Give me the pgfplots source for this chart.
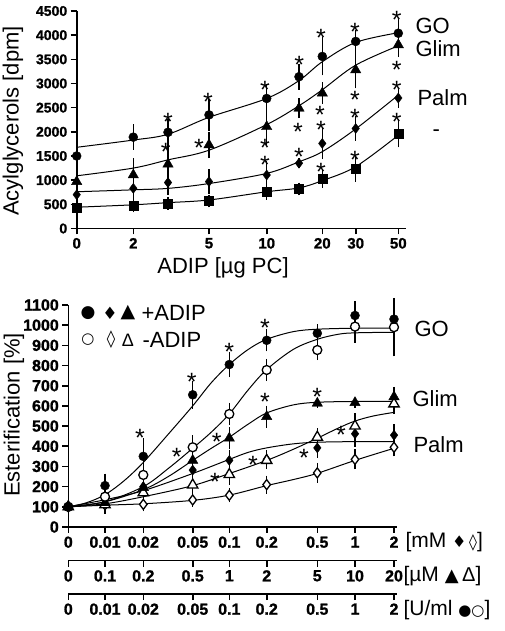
\documentclass[border=0pt]{standalone}
\usepackage{fontspec}
\setmainfont{Liberation Sans}
\newfontfamily\symfont{DejaVu Sans}
\newfontfamily\tickfont{Liberation Sans Bold}[FakeBold=1.2]
\usepackage{pgfplots}
\pgfplotsset{compat=1.18}
\newcommand\fs[1]{\fontsize{#1}{#1}\selectfont}
\pgfplotsset{
  myaxis/.style={scale only axis, axis lines*=left, axis line style={line width=1.6pt},
    every tick/.style={line width=1.6pt, black}, tick align=outside, major tick length=6pt,
    /pgf/number format/assume math mode=true, /pgf/number format/1000 sep={}, scaled ticks=false,
    clip=false, anchor=south west},
  errs/.style={error bars/.cd, y dir=both, y explicit, error bar style={line width=1.4pt},
    error mark options={mark size=5pt, line width=1.4pt}},
  crv/.style={line width=1pt, smooth, tension=0.55, no marks, black},
  stars/.style={only marks, mark=text, text mark={*}, text mark as node=true,
    text mark style={font=\fs{25}, yshift=-5pt, inner sep=0pt}},
  fc/.style={only marks, mark=*, mark size=4.5pt, black, errs},
  oc/.style={only marks, mark=*, mark size=4.5pt, black, mark options={fill=white, line width=1.3pt}, errs},
  ft/.style={only marks, mark=triangle*, mark size=6pt, black, errs},
  ot/.style={only marks, mark=triangle*, mark size=6pt, black, mark options={fill=white, line width=1.3pt}, errs},
  fd/.style={only marks, mark=diamond*, mark size=5pt, black, errs},
  od/.style={only marks, mark=diamond*, mark size=5pt, black, mark options={fill=white, line width=1.3pt}, errs},
  fs/.style={only marks, mark=square*, mark size=4.5pt, black, errs},
}
\begin{document}
\begin{tikzpicture}
\useasboundingbox (0pt,0pt) rectangle (505pt,631pt);
% ================= TOP CHART =================
\begin{axis}[myaxis, at={(76.7pt,402.5pt)}, width=329.3pt, height=217.5pt,
  xmin=0, xmax=329.3, ymin=0, ymax=4500, ytick={0,500,...,4500},
  xtick={0,56.6,132.3,190,245.6,279,321.6}, xticklabels={0,2,5,10,20,30,50},
  yticklabel style={font=\tickfont\fs{14}}, xticklabel style={font=\tickfont\fs{15}}]
% curves
\addplot[crv] coordinates {(0,1680)(56.6,1830)(91.3,1950)(132.3,2300)(190,2690)(222.3,3060)(245.6,3450)(279,3850)(321.6,4050)};
\addplot[crv] coordinates {(0,1090)(56.6,1250)(91.3,1420)(132.3,1620)(190,2150)(222.3,2540)(245.6,2870)(279,3380)(321.6,3780)};
\addplot[crv] coordinates {(0,760)(56.6,800)(91.3,830)(132.3,930)(190,1140)(222.3,1380)(245.6,1590)(279,2060)(321.6,2760)};
\addplot[crv] coordinates {(0,440)(56.6,490)(91.3,535)(132.3,590)(190,760)(222.3,840)(245.6,990)(279,1280)(321.6,1930)};
% data
\addplot[fs] coordinates {(0,420)+-(0,40) (56.6,466)+-(0,30) (91.3,521)+-(0,30) (132.3,569)+-(0,30) (190,761)+-(0,60) (222.3,817)+-(0,30) (245.6,1024)+-(0,80) (279,1245)+-(0,170) (321.6,1970)+-(0,190)};
\addplot[fd] coordinates {(0,700)+-(0,80) (56.6,830)+-(0,150) (91.3,950)+-(0,150) (132.3,970)+-(0,150) (190,1107)+-(0,190) (222.3,1350)+-(0,0) (245.6,1760)+-(0,220) (279,2070)+-(0,150) (321.6,2700)+-(0,100)};
\addplot[ft] coordinates {(0,970)+-(0,230) (56.6,1107)+-(0,240) (91.3,1330)+-(0,310) (132.3,1730)+-(0,170) (190,2106)+-(0,270) (222.3,2487)+-(0,100) (245.6,2800)+-(0,120) (279,3280)+-(0,280) (321.6,3800)+-(0,150)};
\addplot[fc] coordinates {(0,1500)+-(0,70) (56.6,1890)+-(0,160) (91.3,1990)+-(0,170) (132.3,2350)+-(0,230) (190,2690)+-(0,190) (222.3,3140)+-(0,170) (245.6,3560)+-(0,290) (279,3870)+-(0,140) (321.6,4040)+-(0,190)};
\addplot[stars] coordinates {(91.3,2313)(131.3,2727)(89,1692)(122.3,1763)(188.3,2969)(222.6,3486)(244.3,4039)(278.3,4175)(320,4417)(320,3383)(278.3,2762)(221.3,2106)(243.3,2452)(188.3,1763)(188.3,1417)(222.3,1589)(244.3,2141)(244.3,1279)(278.3,2384)(278.3,1521)(320,2969)(320,2313)};
\end{axis}
\node[rotate=90, font=\fs{22}] at (13pt,510pt) {Acylglycerols [dpm]};
\node[font=\fs{22}] at (223pt,363pt) {ADIP [µg PC]};
\node[anchor=west, font=\fs{22}] at (412pt,605.2pt) {GO};
\node[anchor=west, font=\fs{22}] at (412pt,582.7pt) {Glim};
\node[anchor=west, font=\fs{22}] at (414pt,533.5pt) {Palm};
\node[anchor=west, font=\fs{22}] at (429pt,497.7pt) {-};
% ================= BOTTOM CHART =================
\begin{axis}[myaxis, at={(68.3pt,104pt)}, width=329pt, height=222pt,
  xmin=0, xmax=329, ymin=0, ymax=1100, ytick={0,100,...,1100},
  xtick={0,36.7,75,124.4,161,198.4,249,286.7,325.7}, xticklabels={0,0.01,0.02,0.05,0.1,0.2,0.5,1,2},
  yticklabel style={font=\tickfont\fs{16}}, xticklabel style={font=\tickfont\fs{16}}]
% curves
\addplot[crv] coordinates {(0,100)(18,120)(36.7,160)(56,230)(75,320)(100,460)(124.4,600)(143,715)(161,805)(180,880)(198.4,930)(225,968)(249,980)(286.7,985)(325.7,986)};
\addplot[crv] coordinates {(0,100)(36.7,125)(75,200)(100,290)(124.4,390)(143,470)(161,560)(180,680)(198.4,780)(225,880)(249,930)(270,955)(286.7,962)(325.7,965)};
\addplot[crv] coordinates {(0,100)(36.7,125)(75,185)(100,250)(124.4,330)(143,390)(161,445)(180,510)(198.4,565)(225,605)(249,618)(286.7,622)(325.7,622)};
\addplot[crv] coordinates {(0,100)(36.7,115)(75,150)(124.4,205)(161,265)(198.4,330)(225,385)(249,440)(270,490)(286.7,525)(305,550)(325.7,568)};
\addplot[crv] coordinates {(0,100)(36.7,135)(75,180)(124.4,265)(161,335)(180,370)(198.4,392)(225,412)(249,420)(286.7,423)(325.7,423)};
\addplot[crv] coordinates {(0,100)(36.7,108)(75,115)(124.4,132)(161,158)(198.4,205)(225,235)(249,266)(286.7,330)(325.7,390)};
% data
\addplot[od] coordinates {(0,100)+-(0,10) (36.7,110)+-(0,10) (75,112)+-(0,10) (124.4,134)+-(0,10) (161,157)+-(0,10) (198.4,210)+-(0,20) (249,268)+-(0,25) (286.7,335)+-(0,25) (325.7,395)+-(0,20)};
\addplot[fd] coordinates {(0,100)+-(0,10) (36.7,150)+-(0,20) (75,200)+-(0,20) (124.4,282)+-(0,25) (161,330)+-(0,25) (198.4,335)+-(0,20) (249,392)+-(0,25) (286.7,462)+-(0,40) (325.7,455)+-(0,30)};
\addplot[ot] coordinates {(0,100)+-(0,10) (36.7,110)+-(0,20) (75,170)+-(0,20) (124.4,208)+-(0,25) (161,260)+-(0,25) (198.4,330)+-(0,20) (249,445)+-(0,20) (286.7,500)+-(0,40) (325.7,610)+-(0,25)};
\addplot[ft] coordinates {(0,100)+-(0,10) (36.7,120)+-(0,25) (75,195)+-(0,25) (124.4,330)+-(0,25) (161,440)+-(0,30) (198.4,547)+-(0,30) (249,613)+-(0,0) (286.7,616)+-(0,0) (325.7,645)+-(0,25)};
\addplot[oc] coordinates {(0,100)+-(0,10) (36.7,150)+-(0,20) (75,258)+-(0,30) (124.4,395)+-(0,35) (161,560)+-(0,30) (198.4,778)+-(0,30) (249,877)+-(0,25) (286.7,993)+-(0,55) (325.7,990)+-(0,120)};
\addplot[fc] coordinates {(0,100)+-(0,15) (36.7,205)+-(0,35) (75,350)+-(0,65) (124.4,655)+-(0,45) (161,805)+-(0,38) (198.4,925)+-(0,30) (249,960)+-(0,20) (286.7,1048)+-(0,45) (325.7,1030)+-(0,55)};
\addplot[stars] coordinates {(71.7,464)(123.4,745)(161,893)(196.7,1009)(108.4,373)(148.4,447)(146.7,249)(196.7,646)(249,670)(184.7,332)(235.7,368)(272.7,480)};
\end{axis}
% second and third x axes
\begin{axis}[myaxis, at={(68.3pt,70.3pt)}, width=329pt, height=10pt, xmin=0, xmax=329, ymin=0, ymax=1,
  axis x line*=bottom, hide y axis,
  xtick={0,36.7,75,124.4,161,198.4,249,286.7,325.7}, xticklabels={0,0.1,0.2,0.5,1,2,5,10,20},
  xticklabel style={font=\tickfont\fs{16}}]
\addplot[draw=none] coordinates {(0,0)};
\end{axis}
\begin{axis}[myaxis, at={(68.3pt,37pt)}, width=329pt, height=10pt, xmin=0, xmax=329, ymin=0, ymax=1,
  axis x line*=bottom, hide y axis,
  xtick={0,36.7,75,124.4,161,198.4,249,286.7,325.7}, xticklabels={0,0.01,0.02,0.05,0.1,0.2,0.5,1,2},
  xticklabel style={font=\tickfont\fs{16}}]
\addplot[draw=none] coordinates {(0,0)};
\end{axis}
\node[rotate=90, font=\fs{22}] at (14pt,216pt) {Esterification [\%]};
\node[anchor=west, font=\fs{22}] at (411pt,302pt) {GO};
\node[anchor=west, font=\fs{22}] at (409pt,232pt) {Glim};
\node[anchor=west, font=\fs{22}] at (410pt,186pt) {Palm};
% legend
\node[font=\symfont\fs{17}] at (88pt,318pt) {●};
\node[font=\symfont\fs{17}] at (110pt,318pt) {♦};
\node[font=\symfont\fs{19}] at (128pt,318pt) {▲};
\node[anchor=west, font=\fs{22}] at (138pt,318pt) {+ADIP};
\node[font=\symfont\fs{15}] at (88pt,291pt) {○};
\node[font=\symfont\fs{17}] at (111pt,291pt) {◊};
\node[font=\fs{18}] at (128pt,291pt) {Δ};
\node[anchor=west, font=\fs{22}] at (139pt,291pt) {-ADIP};
% right unit labels
\node[anchor=west, font=\fs{21}] at (402pt,89pt) {[mM {\symfont\fs{16}♦\,◊}]};
\node[anchor=west, font=\fs{21}] at (400pt,55pt) {[µM {\symfont\fs{18}▲}\,{\fs{20}Δ}]};
\node[anchor=west, font=\fs{21}] at (400pt,21pt) {[U/ml {\symfont\fs{15}●○}]};
\end{tikzpicture}
\end{document}
